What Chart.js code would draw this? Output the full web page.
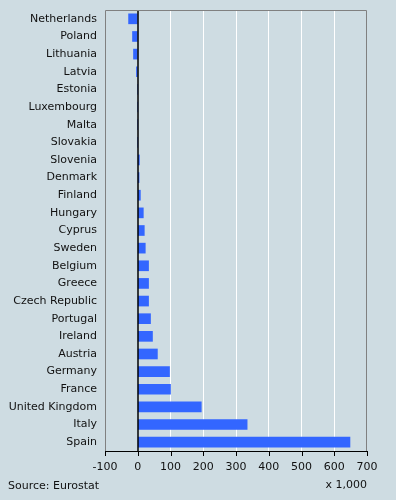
<!DOCTYPE html>
<html>
<head>
<meta charset="utf-8">
<script src="https://cdn.jsdelivr.net/npm/chart.js@4/dist/chart.umd.min.js"></script>
<style>
  html, body { margin: 0; padding: 0; background: #cedce2; }
  #wrap { width: 396px; height: 500px; }
</style>
</head>
<body>
<div id="wrap"><canvas id="chart" width="396" height="500"></canvas></div>
<script>
const countries = ['Netherlands', 'Poland', 'Lithuania', 'Latvia', 'Estonia', 'Luxembourg', 'Malta',
  'Slovakia', 'Slovenia', 'Denmark', 'Finland', 'Hungary', 'Cyprus', 'Sweden', 'Belgium', 'Greece',
  'Czech Republic', 'Portugal', 'Ireland', 'Austria', 'Germany', 'France', 'United Kingdom', 'Italy', 'Spain'];
const values = [-28, -16, -13, -4, 0, 0, 0, 0, 5, 4, 8, 17, 20, 23, 33, 33, 33, 39, 45, 60, 97, 100, 194, 334, 648];
const xTicks = [-100, 0, 100, 200, 300, 400, 500, 600, 700];
const source = 'Source: Eurostat';
const unit = 'x 1,000';

const BG = '#cedce2';
const FONT = 'DejaVu Sans';

const frame = {
  id: 'frame',
  beforeDraw(chart) {
    const c = chart.ctx;
    c.save();
    c.fillStyle = BG;
    c.fillRect(0, 0, chart.width, chart.height);
    c.restore();
  },
  afterDatasetsDraw(chart) {
    const c = chart.ctx;
    const a = chart.chartArea;
    const x = chart.scales.x;
    c.save();
    // zero line
    const x0 = Math.round(x.getPixelForValue(0));
    c.strokeStyle = '#000';
    c.lineWidth = 1.5;
    c.beginPath();
    c.moveTo(x0, a.top);
    c.lineTo(x0, a.bottom);
    c.stroke();
    // gray frame top / left / right
    c.strokeStyle = '#808080';
    c.lineWidth = 1;
    c.beginPath();
    c.moveTo(a.left + 0.5, a.bottom);
    c.lineTo(a.left + 0.5, a.top + 0.5);
    c.lineTo(a.right - 0.5, a.top + 0.5);
    c.lineTo(a.right - 0.5, a.bottom);
    c.stroke();
    // bottom axis line with tick marks
    c.strokeStyle = '#000';
    c.beginPath();
    c.moveTo(a.left, a.bottom + 0.5);
    c.lineTo(a.right, a.bottom + 0.5);
    xTicks.forEach(v => {
      const px = Math.round(x.getPixelForValue(v)) + 0.5;
      c.moveTo(px, a.bottom);
      c.lineTo(px, a.bottom + 5);
    });
    c.stroke();
    // footer texts
    c.fillStyle = '#111';
    c.font = '11px "' + FONT + '"';
    c.textBaseline = 'middle';
    c.textAlign = 'left';
    c.fillText(source, 8, 486);
    c.textAlign = 'right';
    c.fillText(unit, a.right, 485);
    c.restore();
  }
};

new Chart(document.getElementById('chart'), {
  type: 'bar',
  data: {
    labels: countries,
    datasets: [{
      data: values,
      backgroundColor: '#3366ff',
      borderWidth: 0,
      barThickness: 10
    }]
  },
  options: {
    indexAxis: 'y',
    responsive: false,
    animation: false,
    layout: { padding: { left: 0, right: 29, top: 10, bottom: 0 } },
    plugins: { legend: { display: false }, tooltip: { enabled: false } },
    scales: {
      x: {
        min: -100,
        max: 700,
        afterBuildTicks: s => { s.ticks = xTicks.map(v => ({ value: v })); },
        afterFit: s => { s.height = 49; s.paddingLeft = 0; s.paddingRight = 0; },
        grid: {
          drawTicks: false,
          color: c => (c.tick && (c.tick.value === 0 || c.tick.value === -100 || c.tick.value === 700)) ? 'rgba(0,0,0,0)' : '#ffffff',
          lineWidth: 1
        },
        border: { display: false },
        ticks: { padding: 10, color: '#111', font: { family: FONT, size: 11 }, maxRotation: 0 }
      },
      y: {
        afterFit: s => { s.width = 105; s.paddingTop = 0; s.paddingBottom = 0; },
        grid: { display: false, drawTicks: false },
        border: { display: false },
        ticks: { padding: 8, color: '#111', font: { family: FONT, size: 11 }, autoSkip: false }
      }
    }
  },
  plugins: [frame]
});
</script>
</body>
</html>
